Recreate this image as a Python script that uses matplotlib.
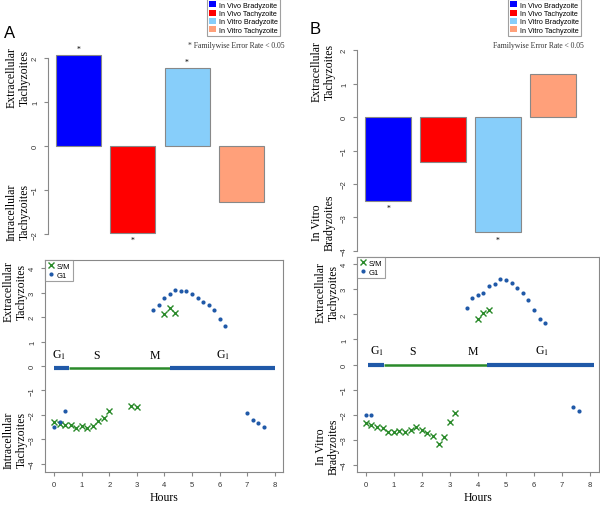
import matplotlib.pyplot as plt
from matplotlib.patches import Patch

plt.rcParams['font.family'] = ['Liberation Sans', 'DejaVu Sans']
plt.rcParams['mathtext.fontset'] = 'stix'

# Dati: barre (pannelli superiori)
bar_labels = ['In Vivo Bradyzoite', 'In Vivo Tachyzoite', 'In Vitro Bradyzoite', 'In Vitro Tachyzoite']
bar_colors = ['#0000FF', '#FF0000', '#87CEFA', '#FFA07A']
bars_A = [2.06, -1.97, 1.76, -1.27]
bars_B = [-2.50, -1.33, -3.44, 1.27]
signif_A = [True, True, True, False]
signif_B = [True, False, True, False]

# Dati: punti nel tempo (pannelli inferiori)
A_g1_x = [3.6, 3.8, 4.0, 4.2, 4.4, 4.6, 4.8, 5.0, 5.2, 5.4, 5.6, 5.8, 6.0, 6.2,
          0.0, 0.2, 0.4, 7.0, 7.2, 7.4, 7.6]
A_g1_y = [2.29, 2.49, 2.79, 2.96, 3.09, 3.06, 3.06, 2.96, 2.77, 2.60, 2.51, 2.29, 1.93, 1.63,
          -2.51, -2.28, -1.84, -1.94, -2.22, -2.33, -2.48]
A_sm_x = [4.0, 4.2, 4.4,
          0.0, 0.2, 0.4, 0.6, 0.8, 1.0, 1.2, 1.4, 1.6, 1.8, 2.0, 2.8, 3.0]
A_sm_y = [2.12, 2.35, 2.18,
          -2.29, -2.37, -2.41, -2.39, -2.54, -2.44, -2.54, -2.44, -2.24, -2.12, -1.82, -1.64, -1.69]

B_g1_x = [3.6, 3.8, 4.0, 4.2, 4.4, 4.6, 4.8, 5.0, 5.2, 5.4, 5.6, 5.8, 6.0, 6.2, 6.4,
          0.0, 0.2, 7.4, 7.6]
B_g1_y = [2.27, 2.64, 2.76, 2.87, 3.14, 3.20, 3.43, 3.39, 3.27, 3.07, 2.86, 2.59, 2.17, 1.83, 1.66,
          -2.03, -2.01, -1.70, -1.86]
B_sm_x = [4.0, 4.2, 4.4,
          0.0, 0.2, 0.4, 0.6, 0.8, 1.0, 1.2, 1.4, 1.6, 1.8, 2.0, 2.2, 2.4, 2.6, 2.8, 3.0, 3.2]
B_sm_y = [1.81, 2.07, 2.19,
          -2.35, -2.41, -2.50, -2.54, -2.71, -2.71, -2.67, -2.71, -2.60, -2.48, -2.60, -2.75,
          -2.86, -3.16, -2.90, -2.30, -1.94]

# Fasi del ciclo cellulare
A_phase_edges = [0.0, 0.53, 4.2, 8.0]
B_phase_edges = [0.08, 0.67, 4.33, 8.15]
A_phase_y = -0.1
B_phase_y = 0.0
phase_text = ['G$_1$', 'S', 'M', 'G$_1$']
A_phase_text_x = [0.18, 1.52, 3.67, 6.13]
B_phase_text_x = [0.39, 1.68, 3.82, 6.30]

W, H = 600, 506
BLUE = '#2059a8'
GREEN = '#2a8a2a'
GREY = '#888888'
SERIF = ['Liberation Serif', 'DejaVu Serif']

fig = plt.figure(figsize=(W / 100, H / 100), dpi=100)


def px_axes(x0, x1, y0, y1):
    return fig.add_axes([x0 / W, 1 - y1 / H, (x1 - x0) / W, (y1 - y0) / H])


def style_ticks(ax):
    ax.tick_params(colors=GREY, labelcolor='#333333', labelsize=5.5, length=3, width=0.8)
    for lab in ax.get_yticklabels():
        lab.set_rotation(90)
        lab.set_va('center')


def bar_panel(ax, vals, signif, ylim, yb, ticks):
    xs = [0.7 + 1.2 * i for i in range(len(vals))]
    ax.bar(xs, vals, width=1.0, color=bar_colors, edgecolor=GREY, linewidth=0.8)
    for x, v, s in zip(xs, vals, signif):
        if s:
            off = 0.04 if v > 0 else -0.06
            ax.text(x, v + off * (ylim[1] - ylim[0]) / 4, '*', ha='center',
                    va='bottom' if v > 0 else 'top', fontsize=5.5, family=SERIF)
    ax.set_xlim(0.016, 4.984)
    ax.set_ylim(*ylim)
    for s in ['top', 'right', 'bottom']:
        ax.spines[s].set_visible(False)
    ax.spines['left'].set_bounds(*yb)
    ax.spines['left'].set_color(GREY)
    ax.set_xticks([])
    ax.set_yticks(ticks)
    style_ticks(ax)
    return [Patch(facecolor=c, edgecolor='none') for c in bar_colors]


def time_panel(ax, g1x, g1y, smx, smy, edges, py, tx, xlim, ylim):
    ax.plot(edges[0:2], [py, py], color=BLUE, lw=3, solid_capstyle='butt')
    ax.plot(edges[1:3], [py, py], color=GREEN, lw=1.8, solid_capstyle='butt')
    ax.plot(edges[2:4], [py, py], color=BLUE, lw=3, solid_capstyle='butt')
    for x, t in zip(tx, phase_text):
        ax.text(x, py + 0.3, t, ha='center', va='bottom', fontsize=8.5, family=SERIF)
    ax.plot(smx, smy, 'x', color=GREEN, ms=3.8, mew=1.0, label='S/M')
    ax.plot(g1x, g1y, 'o', color=BLUE, ms=3.0, mew=0, label='G1')
    ax.set_xlim(*xlim)
    ax.set_ylim(*ylim)
    ax.set_xticks(range(9))
    ax.set_yticks(range(-4, 5))
    for s in ax.spines.values():
        s.set_color(GREY)
    style_ticks(ax)
    ax.set_xlabel('Hours', family=SERIF, fontsize=8.5, labelpad=2)
    leg = ax.legend(loc='upper left', fontsize=5.5, handlelength=0.8, handletextpad=0.4,
                    borderpad=0.35, labelspacing=0.15, fancybox=False, borderaxespad=0,
                    edgecolor=GREY)
    leg.get_frame().set_linewidth(0.8)


def bar_legend(ax, handles, right):
    leg = ax.legend(handles, bar_labels, loc='upper right', bbox_to_anchor=(right / W, 1.0),
                    bbox_transform=fig.transFigure, fontsize=5.2, handlelength=0.9,
                    handleheight=0.9, handletextpad=0.4, labelspacing=0.12, borderpad=0.3,
                    fancybox=False, edgecolor=GREY, borderaxespad=0)
    leg.get_frame().set_linewidth(0.8)


# Pannello A (barre)
axA = px_axes(48, 272, 40, 245)
bar_legend(axA, bar_panel(axA, bars_A, signif_A, (-2.22, 2.42), (-2, 2), [-2, -1, 0, 1, 2]), 280)

# Pannello B (barre)
axB = px_axes(357, 584, 40, 256)
bar_legend(axB, bar_panel(axB, bars_B, signif_B, (-4.12, 2.33), (-4, 2),
                          [-4, -3, -2, -1, 0, 1, 2]), 581)

fig.text(236 / W, 1 - 46 / H, '* Familywise Error Rate < 0.05', ha='center', va='center',
         fontsize=5.5, family=SERIF, color='#333333')
fig.text(538 / W, 1 - 46 / H, 'Familywise Error Rate < 0.05', ha='center', va='center',
         fontsize=5.5, family=SERIF, color='#333333')

fig.text(10 / W, 1 - 33 / H, 'A', ha='center', va='center', fontsize=12)
fig.text(315 / W, 1 - 30 / H, 'B', ha='center', va='center', fontsize=12)

# Pannelli inferiori
axC = px_axes(45, 283, 261, 473)
time_panel(axC, A_g1_x, A_g1_y, A_sm_x, A_sm_y, A_phase_edges, A_phase_y,
           A_phase_text_x, (-0.33, 8.3), (-4.33, 4.33))
axD = px_axes(357, 599, 258, 473)
time_panel(axD, B_g1_x, B_g1_y, B_sm_x, B_sm_y, B_phase_edges, B_phase_y,
           B_phase_text_x, (-0.31, 8.32), (-4.29, 4.29))

# Etichette asse y (due per pannello)
ylabels = [
    (18, 78, 'Extracellular\nTachyzoites'),
    (18, 212, 'Intracellular\nTachyzoites'),
    (323, 72, 'Extracellular\nTachyzoites'),
    (323, 223, 'In Vitro\nBradyzoites'),
    (15, 292, 'Extracellular\nTachyzoites'),
    (15, 440, 'Intracellular\nTachyzoites'),
    (327, 293, 'Extracellular\nTachyzoites'),
    (327, 447, 'In Vitro\nBradyzoites'),
]
for x, y, t in ylabels:
    fig.text(x / W, 1 - y / H, t, rotation=90, ha='center', va='center',
             fontsize=8.5, family=SERIF, linespacing=1.1)

plt.savefig('out.png', dpi=100)
